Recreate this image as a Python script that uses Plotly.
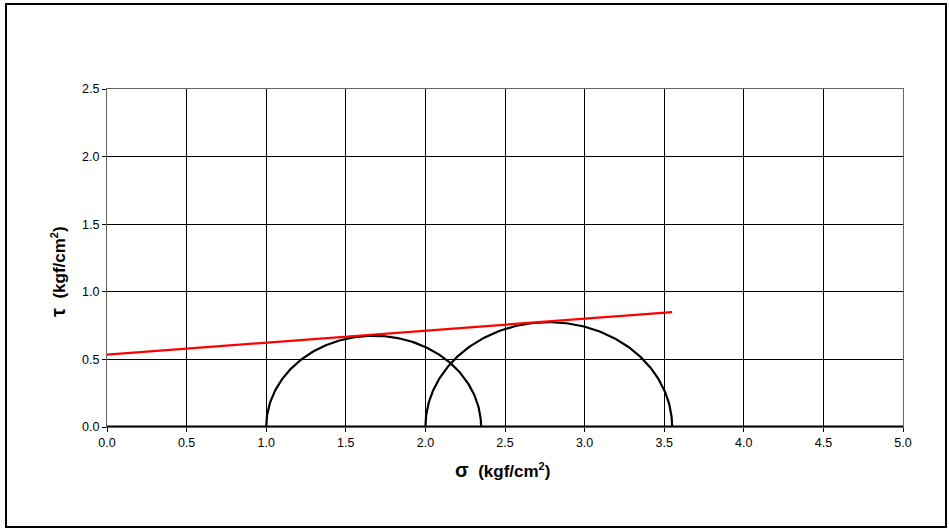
import numpy as np
import plotly.graph_objects as go

# Mohr circles: (sigma3, sigma1) pairs
sigma3 = [1.0, 2.0]
sigma1 = [2.35, 3.55]
# Failure envelope (red line) end points
env_sigma = [0.0, 3.55]
env_tau = [0.535, 0.85]
# baseline
base_sigma = [0.0, 5.0]
base_tau = [0.0, 0.0]

x_ticks = [0.0, 0.5, 1.0, 1.5, 2.0, 2.5, 3.0, 3.5, 4.0, 4.5, 5.0]
y_ticks = [0.0, 0.5, 1.0, 1.5, 2.0, 2.5]

fig = go.Figure()
fig.add_trace(go.Scatter(x=base_sigma, y=base_tau, mode="lines",
                         line=dict(color="black", width=3), showlegend=False))
for s3, s1 in zip(sigma3, sigma1):
    c = (s1 + s3) / 2
    r = (s1 - s3) / 2
    th = np.linspace(np.pi, 0, 181)
    fig.add_trace(go.Scatter(x=c + r * np.cos(th), y=r * np.sin(th), mode="lines",
                             line=dict(color="black", width=2.2), showlegend=False))
fig.add_trace(go.Scatter(x=env_sigma, y=env_tau, mode="lines",
                         line=dict(color="red", width=2.2), showlegend=False))

W, H = 949, 529
L, R, T, B = 107, 903, 89, 427
pw, ph = R - L, B - T

def px(x):
    return (x - L) / pw

def py(y):
    return (B - y) / ph

axis_common = dict(showgrid=True, gridcolor="black", gridwidth=1,
                   showline=True, linecolor="#666666", linewidth=1, mirror=True,
                   ticks="outside", ticklen=4, tickcolor="black", zeroline=False,
                   tickfont=dict(family="Arial, Liberation Sans", size=12.5, color="black"))

sup = "<sup><span style='font-size:11px'>2</span></sup>"

fig.update_layout(
    width=W, height=H,
    margin=dict(l=L, r=W - R, t=T, b=H - B),
    paper_bgcolor="white", plot_bgcolor="white",
    xaxis=dict(range=[0, 5], tickvals=x_ticks, ticktext=[f"{v:.1f}" for v in x_ticks], **axis_common),
    yaxis=dict(range=[0, 2.5], tickvals=y_ticks, ticktext=[f"{v:.1f}" for v in y_ticks], **axis_common),
    shapes=[dict(type="rect", xref="paper", yref="paper",
                 x0=px(6), x1=px(946), y0=py(527), y1=py(4),
                 line=dict(color="black", width=2))],
    annotations=[
        dict(text="<b><span style='font-size:20px'>σ</span>  (kgf/cm" + sup + ")</b>", xref="paper", yref="paper",
             x=px(502), y=py(483), showarrow=False,
             font=dict(family="Arial, Liberation Sans", size=17, color="black")),
        dict(text="<b><span style='font-size:20px'>τ</span>  (kgf/cm" + sup + ")</b>", xref="paper", yref="paper",
             x=px(45), y=py(272), showarrow=False, textangle=-90,
             font=dict(family="Arial, Liberation Sans", size=17, color="black")),
    ],
)
fig.write_html("out.html")
